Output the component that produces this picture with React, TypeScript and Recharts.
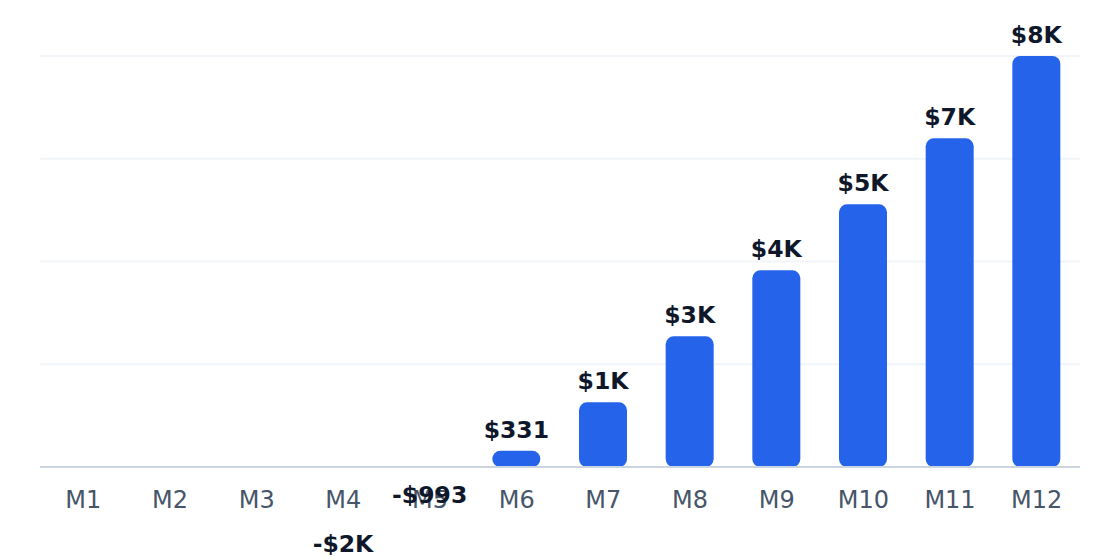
import { Bar, BarChart, CartesianGrid, LabelList, XAxis, YAxis } from "recharts";

const MONTHS = ["M1", "M2", "M3", "M4", "M5", "M6", "M7", "M8", "M9", "M10", "M11", "M12"];
const NET = [-4980, -3990, -2990, -1993, -993, 331, 1322, 2671, 4020, 5369, 6718, 8400];
const Y_TICKS = [0, 2100, 4200, 6300, 8400];

const data = MONTHS.map((m, i) => ({ month: m, net: NET[i] }));

const fmt = (v: number) => {
  const a = Math.abs(v);
  const s = a >= 1000 ? `$${Math.round(a / 1000)}K` : `$${Math.round(a)}`;
  return v < 0 ? `-${s}` : s;
};

const FONT = "DejaVu Sans, sans-serif";

function BarLabel(props: any) {
  const vb = props.viewBox ?? props;
  const { x, y, width, height } = vb;
  const value = Number(props.value);
  // label sits just above the value end of the bar, also for negative bars
  const end = value >= 0 ? Math.min(y, y + height) : Math.max(y, y + height);
  return (
    <text
      x={x + width / 2}
      y={end - 13}
      textAnchor="middle"
      fill="#0f172a"
      fontSize={23.5}
      fontWeight={700}
      fontFamily={FONT}
    >
      {fmt(value)}
    </text>
  );
}

export default function App() {
  return (
    <div style={{ width: 1120, height: 560 }}>
      <style>{`body{margin:0}`}</style>
      <BarChart
        width={1120}
        height={560}
        data={data}
        margin={{ top: 56, right: 40, left: 40, bottom: 63 }}
      >
        <CartesianGrid vertical={false} stroke="#f1f5f9" strokeWidth={2} />
        <XAxis
          dataKey="month"
          tickLine={false}
          axisLine={{ stroke: "#cbd5e1", strokeWidth: 2 }}
          tickMargin={18}
          tick={{ fill: "#475569", fontSize: 24, fontFamily: FONT }}
          interval={0}
        />
        <YAxis hide domain={[0, 8400]} ticks={Y_TICKS} allowDataOverflow />
        <Bar dataKey="net" fill="#2563eb" barSize={48} radius={8} isAnimationActive={false}>
          <LabelList dataKey="net" content={BarLabel} />
        </Bar>
      </BarChart>
    </div>
  );
}
